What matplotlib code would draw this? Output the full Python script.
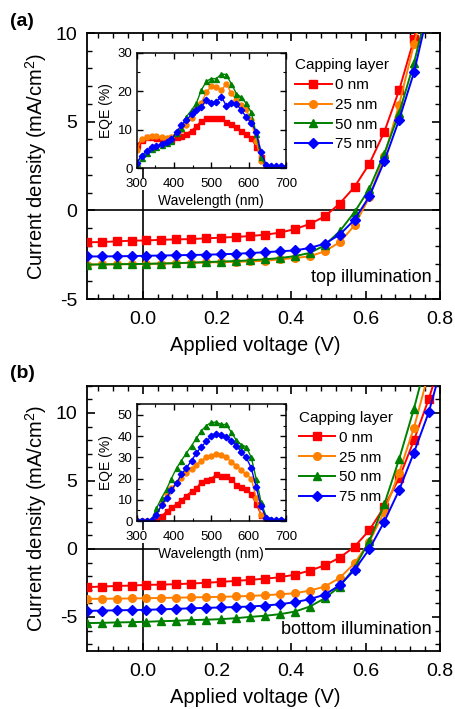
import matplotlib
matplotlib.use("Agg")
import matplotlib.pyplot as plt
from matplotlib.ticker import MultipleLocator

plt.rcParams['font.family'] = ['Liberation Sans', 'DejaVu Sans']
plt.rcParams['mathtext.fontset'] = 'custom'
plt.rcParams['mathtext.rm'] = 'Liberation Sans'
plt.rcParams['axes.unicode_minus'] = False

# ---------------- data ----------------
voltage = [-0.15, -0.11, -0.07, -0.03, 0.01, 0.05, 0.09, 0.13, 0.17, 0.21, 0.25, 0.29,
           0.33, 0.37, 0.41, 0.45, 0.49, 0.53, 0.57, 0.61, 0.65, 0.69, 0.73, 0.77, 0.81]

labels = ['0 nm', '25 nm', '50 nm', '75 nm']
colors = ['#FF0000', '#FF8000', '#008000', '#0000FF']
markers = ['s', 'o', '^', 'D']

# top illumination J-V (mA/cm^2)
jv_top_0 = [-1.80, -1.79, -1.75, -1.71, -1.70, -1.66, -1.64, -1.62, -1.58, -1.54, -1.50, -1.45,
            -1.37, -1.26, -1.05, -0.77, -0.34, 0.38, 1.32, 2.63, 4.42, 6.77, 9.66, 13.0, 17.0]
jv_top_25 = [-3.06, -3.05, -3.04, -3.03, -3.02, -3.00, -2.98, -2.96, -2.94, -2.92, -2.90, -2.88,
             -2.85, -2.76, -2.69, -2.59, -2.31, -1.80, -0.85, 0.75, 3.05, 5.96, 9.38, 12.5, 16.5]
jv_top_50 = [-3.06, -3.05, -3.04, -3.03, -3.02, -3.00, -2.98, -2.95, -2.92, -2.89, -2.86, -2.82,
             -2.76, -2.69, -2.58, -2.40, -1.97, -1.18, -0.10, 1.22, 3.20, 5.49, 8.31, 11.7, 15.5]
jv_top_75 = [-2.60, -2.60, -2.59, -2.58, -2.56, -2.55, -2.53, -2.52, -2.50, -2.48, -2.45, -2.41,
             -2.36, -2.31, -2.26, -2.12, -1.88, -1.37, -0.53, 0.79, 2.76, 5.11, 7.78, 11.4, 15.0]

# bottom illumination J-V (mA/cm^2)
jv_bot_0 = [-2.81, -2.76, -2.72, -2.69, -2.64, -2.62, -2.59, -2.54, -2.49, -2.42, -2.35, -2.27,
            -2.18, -2.08, -1.88, -1.59, -1.20, -0.64, 0.17, 1.39, 3.10, 5.20, 8.00, 11.05, 14.5]
jv_bot_25 = [-3.67, -3.66, -3.65, -3.64, -3.62, -3.60, -3.58, -3.56, -3.54, -3.52, -3.49, -3.45,
             -3.40, -3.33, -3.25, -3.06, -2.76, -2.13, -1.05, 0.54, 2.74, 5.62, 8.92, 13.0, 17.0]
jv_bot_50 = [-5.45, -5.43, -5.40, -5.38, -5.35, -5.31, -5.28, -5.23, -5.20, -5.16, -5.09, -4.99,
             -4.91, -4.79, -4.60, -4.23, -3.62, -2.76, -1.37, 0.59, 3.28, 6.60, 10.32, 14.5, 18.5]
jv_bot_75 = [-4.55, -4.53, -4.51, -4.49, -4.47, -4.44, -4.40, -4.36, -4.33, -4.30, -4.27, -4.23,
             -4.16, -4.06, -3.91, -3.69, -3.35, -2.67, -1.54, 0.00, 2.00, 4.33, 7.09, 10.07, 14.0]

wavelength = [300, 313, 327, 340, 353, 367, 380, 393, 407, 420, 433, 447, 460, 473, 487, 500,
              513, 527, 540, 553, 567, 580, 593, 607, 620, 633, 647, 660, 673, 687, 700]

# EQE (%) top illumination
eqe_top_0 = [6.0, 7.3, 8.0, 8.0, 7.8, 7.3, 7.0, 7.3, 8.0, 8.4, 9.0, 9.8, 11.0, 12.3, 13.0, 13.0,
             13.1, 13.0, 12.0, 11.5, 10.6, 9.8, 9.0, 7.8, 5.5, 3.0, 0.3, 0.0, 0.0, 0.0, 0.0]
eqe_top_25 = [4.8, 7.5, 8.2, 8.5, 8.3, 8.1, 7.8, 8.2, 9.2, 10.0, 11.2, 13.0, 15.5, 17.0, 19.8, 21.3,
              21.1, 20.2, 22.0, 19.5, 17.8, 16.3, 15.3, 12.5, 7.0, 2.0, 0.0, 0.0, 0.0, 0.0, 0.0]
eqe_top_50 = [1.5, 2.8, 3.9, 4.9, 5.6, 6.0, 6.5, 7.2, 9.1, 10.4, 13.4, 15.1, 16.9, 20.3, 22.6, 23.3,
              23.2, 24.5, 24.3, 22.0, 19.4, 18.4, 16.9, 14.5, 9.0, 3.0, 0.3, 0.2, 0.2, 0.2, 0.2]
eqe_top_75 = [1.5, 3.2, 4.6, 5.4, 5.8, 6.2, 6.7, 7.5, 9.5, 11.2, 12.5, 14.0, 15.2, 16.0, 17.7, 16.9,
              17.3, 18.6, 16.2, 16.9, 16.7, 15.1, 13.4, 11.8, 9.5, 4.3, 0.9, 0.5, 0.5, 0.5, 0.4]

# EQE (%) bottom illumination
eqe_bot_0 = [0.0, 0.0, 0.0, 0.0, 0.5, 2.5, 4.5, 6.5, 8.0, 10.0, 12.0, 14.0, 15.5, 18.5, 19.5, 20.0,
             22.0, 21.0, 21.0, 20.0, 17.0, 16.0, 15.0, 12.5, 8.0, 3.0, 0.5, 0.0, 0.0, 0.0, 0.0]
eqe_bot_25 = [0.0, 0.0, 0.0, 0.0, 3.0, 8.0, 12.5, 15.5, 18.0, 20.5, 22.5, 24.5, 26.5, 28.5, 30.0, 30.5,
              31.5, 31.3, 30.0, 28.0, 26.0, 24.0, 22.0, 20.0, 11.0, 3.0, 0.5, 0.0, 0.0, 0.0, 0.0]
eqe_bot_50 = [0.5, 0.5, 0.5, 0.5, 6.0, 11.0, 15.0, 20.0, 25.0, 28.5, 32.0, 35.5, 39.0, 42.5, 45.0, 46.5,
              46.5, 45.5, 45.5, 42.0, 38.0, 36.0, 35.0, 30.0, 20.0, 9.0, 2.0, 1.0, 0.5, 1.0, 0.5]
eqe_bot_75 = [0.0, 0.0, 0.0, 0.5, 3.0, 7.5, 11.0, 14.5, 18.0, 22.0, 25.0, 28.5, 32.0, 35.0, 37.5, 40.0,
              41.0, 40.5, 39.5, 37.5, 35.5, 32.5, 30.0, 25.0, 16.0, 7.0, 1.5, 0.5, 0.3, 0.3, 0.0]

jv_top = [jv_top_0, jv_top_25, jv_top_50, jv_top_75]
jv_bot = [jv_bot_0, jv_bot_25, jv_bot_50, jv_bot_75]
eqe_top = [eqe_top_0, eqe_top_25, eqe_top_50, eqe_top_75]
eqe_bot = [eqe_bot_0, eqe_bot_25, eqe_bot_50, eqe_bot_75]

# ---------------- figure ----------------
fig = plt.figure(figsize=(4.55, 7.09), dpi=100)

W, H = 455.0, 709.0


def rect(l, t, r, b):
    return [l / W, 1 - b / H, (r - l) / W, (b - t) / H]


def style_main(ax, ylim):
    ax.set_xlim(-0.15, 0.8)
    ax.set_ylim(*ylim)
    ax.xaxis.set_major_locator(MultipleLocator(0.2))
    ax.xaxis.set_minor_locator(MultipleLocator(0.04))
    ax.yaxis.set_major_locator(MultipleLocator(5))
    ax.yaxis.set_minor_locator(MultipleLocator(1))
    ax.tick_params(which='both', direction='in', top=True, right=True, labelsize=14)
    ax.tick_params(which='major', length=6, width=1.2)
    ax.tick_params(which='minor', length=3.5, width=1.0)
    ax.tick_params(axis='x', pad=9)
    ax.tick_params(axis='y', pad=7)
    for s in ax.spines.values():
        s.set_linewidth(1.3)
    ax.set_xlabel('Applied voltage (V)', fontsize=14.5)
    ax.xaxis.set_label_coords(0.477, -0.138)
    ax.set_ylabel('Current density (mA/cm$^2$)', fontsize=14.5, labelpad=5)
    ax.xaxis.set_major_formatter(plt.FuncFormatter(lambda v, p: f'{v:.1f}'))
    ax.axhline(0, color='black', lw=1.2, zorder=1)
    ax.axvline(0, ymax=0.6, color='black', lw=1.2, zorder=1)


def style_inset(ax, ylim, ymaj):
    ax.set_xlim(300, 700)
    ax.set_ylim(*ylim)
    ax.xaxis.set_major_locator(MultipleLocator(100))
    ax.xaxis.set_minor_locator(MultipleLocator(50))
    ax.yaxis.set_major_locator(MultipleLocator(ymaj))
    ax.yaxis.set_minor_locator(MultipleLocator(5))
    ax.tick_params(which='both', direction='in', top=True, right=True, labelsize=9.5)
    ax.tick_params(which='major', length=4, width=1.0)
    ax.tick_params(which='minor', length=2.5, width=0.8)
    ax.tick_params(axis='x', pad=7)
    ax.tick_params(axis='y', pad=3)
    for s in ax.spines.values():
        s.set_linewidth(1.1)
    ax.set_xlabel('Wavelength (nm)', fontsize=10, labelpad=3,
                  bbox=dict(facecolor='white', edgecolor='none', pad=0.5))
    ax.set_ylabel('EQE (%)', fontsize=10, labelpad=3)
    for lbl in ax.get_xticklabels():
        lbl.set_bbox(dict(facecolor='white', edgecolor='none', pad=0.3))


panels = [
    ('(a)', rect(87, 33, 440, 299), rect(136.7, 52.7, 286, 168.3), jv_top, eqe_top,
     (-5, 10), (0, 30), 10, 'top illumination', (0.589, 0.905), 22),
    ('(b)', rect(87, 385.7, 440, 651), rect(136.7, 404.3, 286, 521), jv_bot, eqe_bot,
     (-7.5, 12), (0, 55), 10, 'bottom illumination', (0.600, 0.905), 374),
]

for (tag, mrect, irect, jv, eqe, ylim, iylim, iymaj, note, legpos, tagy) in panels:
    ax = fig.add_axes(mrect)
    style_main(ax, ylim)
    for j, c, m, lab in zip(jv, colors, markers, labels):
        ax.plot(voltage, j, color=c, marker=m, markersize=5.5 if m != 'D' else 5,
                lw=1.4, label=lab, zorder=3)
    leg = ax.legend(title='Capping layer', loc='upper left', bbox_to_anchor=legpos,
                    frameon=False, fontsize=11, title_fontsize=11, borderpad=0,
                    borderaxespad=0, handlelength=2.4, handletextpad=0.25,
                    labelspacing=0.38, alignment='left')
    ax.text(0.975, 0.08, note, transform=ax.transAxes, ha='right', va='center',
            fontsize=13, bbox=dict(facecolor='white', edgecolor='none', pad=0.5))
    fig.text(10 / W, 1 - tagy / H, tag, fontsize=14, fontweight='bold', va='center', ha='left')

    ia = fig.add_axes(irect)
    ia.set_facecolor('white')
    style_inset(ia, iylim, iymaj)
    for e, c, m in zip(eqe, colors, markers):
        ia.plot(wavelength, e, color=c, marker=m, markersize=3.6 if m != 'D' else 3.3,
                lw=1.0, clip_on=True)

fig.savefig('out.png', dpi=100)
